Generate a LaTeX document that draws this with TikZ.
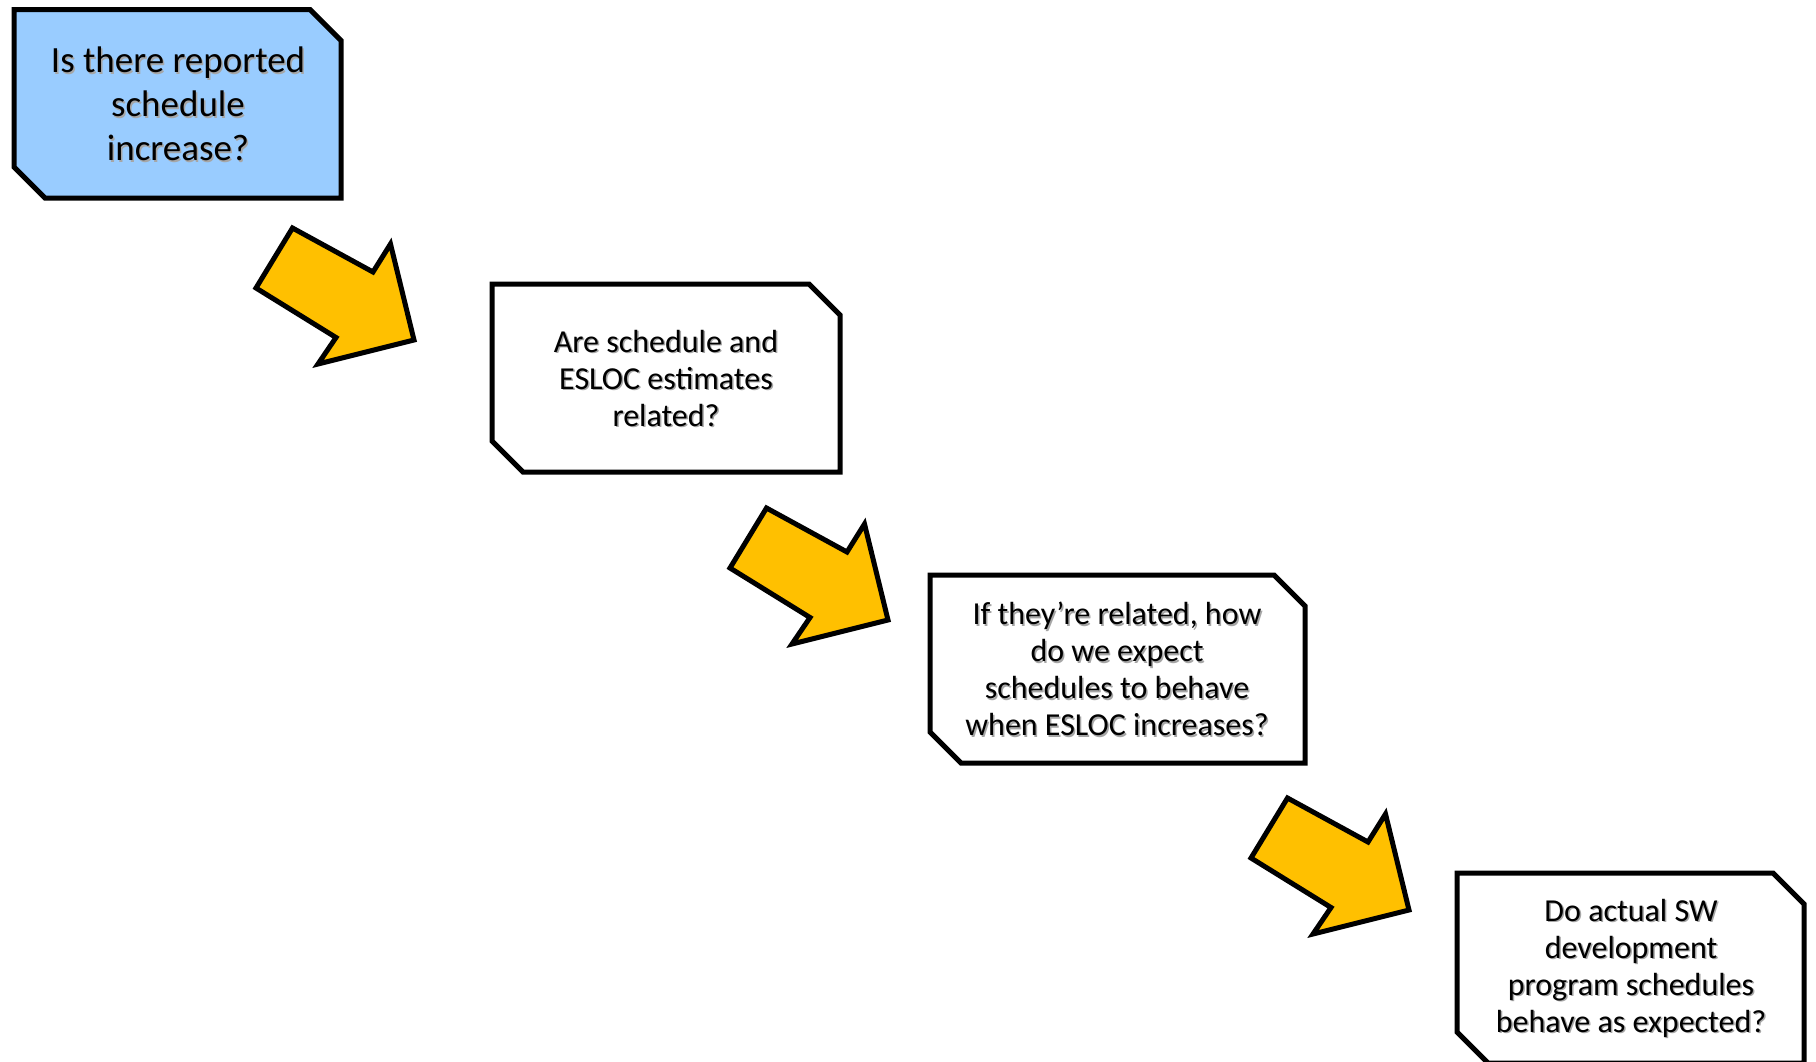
\documentclass[tikz,border=0pt]{standalone}
\usepackage{fontspec}
\setmainfont{Carlito}
\definecolor{boxblue}{HTML}{99CCFF}
\definecolor{arrowyellow}{HTML}{FFC000}
\begin{document}
\begin{tikzpicture}[x=1pt,y=-1pt,
  box/.style={draw=black, line width=5pt, line join=miter},
  qtext/.style={align=center, font=\fontsize{32}{37}\selectfont, inner sep=0pt},
  bigtext/.style={align=center, font=\fontsize{37}{44}\selectfont, inner sep=0pt},
  shadowtext/.style={text=black!35},
  blockarrow/.style={fill=arrowyellow, draw=black, line width=5pt, line join=miter}]
\useasboundingbox (0,0) rectangle (1816,1061);
% boxes
\path[box, fill=boxblue] (14,9.5) -- (310,9.5) -- (341,40.5) -- (341,198) -- (45,198) -- (14,167) -- cycle;
\path[box, fill=white] (492,284) -- (809,284) -- (840,315) -- (840,472) -- (523,472) -- (492,441) -- cycle;
\path[box, fill=white] (930,575) -- (1274,575) -- (1305,606) -- (1305,763) -- (961,763) -- (930,732) -- cycle;
\path[box, fill=white] (1457,873) -- (1773,873) -- (1804,904) -- (1804,1063) -- (1488,1063) -- (1457,1032) -- cycle;
% text shadows
\node[bigtext, shadowtext] (s1) at (179.5,105.5) {Is there reported\\schedule\\increase?};
\node[qtext, shadowtext] (s2) at (667.5,379.5) {Are schedule and\\ESLOC estimates\\related?};
\node[qtext, shadowtext] (s3) at (1118.5,670.5) {If they’re related, how\\do we expect\\schedules to behave\\when ESLOC increases?};
\node[qtext, shadowtext] (s4) at (1632.5,969.5) {Do actual SW\\development\\program schedules\\behave as expected?};
% texts
\node[bigtext] (t1) at (178,104) {Is there reported\\schedule\\increase?};
\node[qtext] (t2) at (666,378) {Are schedule and\\ESLOC estimates\\related?};
\node[qtext] (t3) at (1117,669) {If they’re related, how\\do we expect\\schedules to behave\\when ESLOC increases?};
\node[qtext] (t4) at (1631,968) {Do actual SW\\development\\program schedules\\behave as expected?};
% block arrows
\foreach \dx/\dy in {0/0, 474/280, 995/570} {
  \path[blockarrow, shift={(\dx,\dy)}] (292.5,228) -- (373,272) -- (390.5,244) -- (414,340) -- (318,364) -- (336,337.5) -- (256,288) -- cycle;
}
\end{tikzpicture}
\end{document}
